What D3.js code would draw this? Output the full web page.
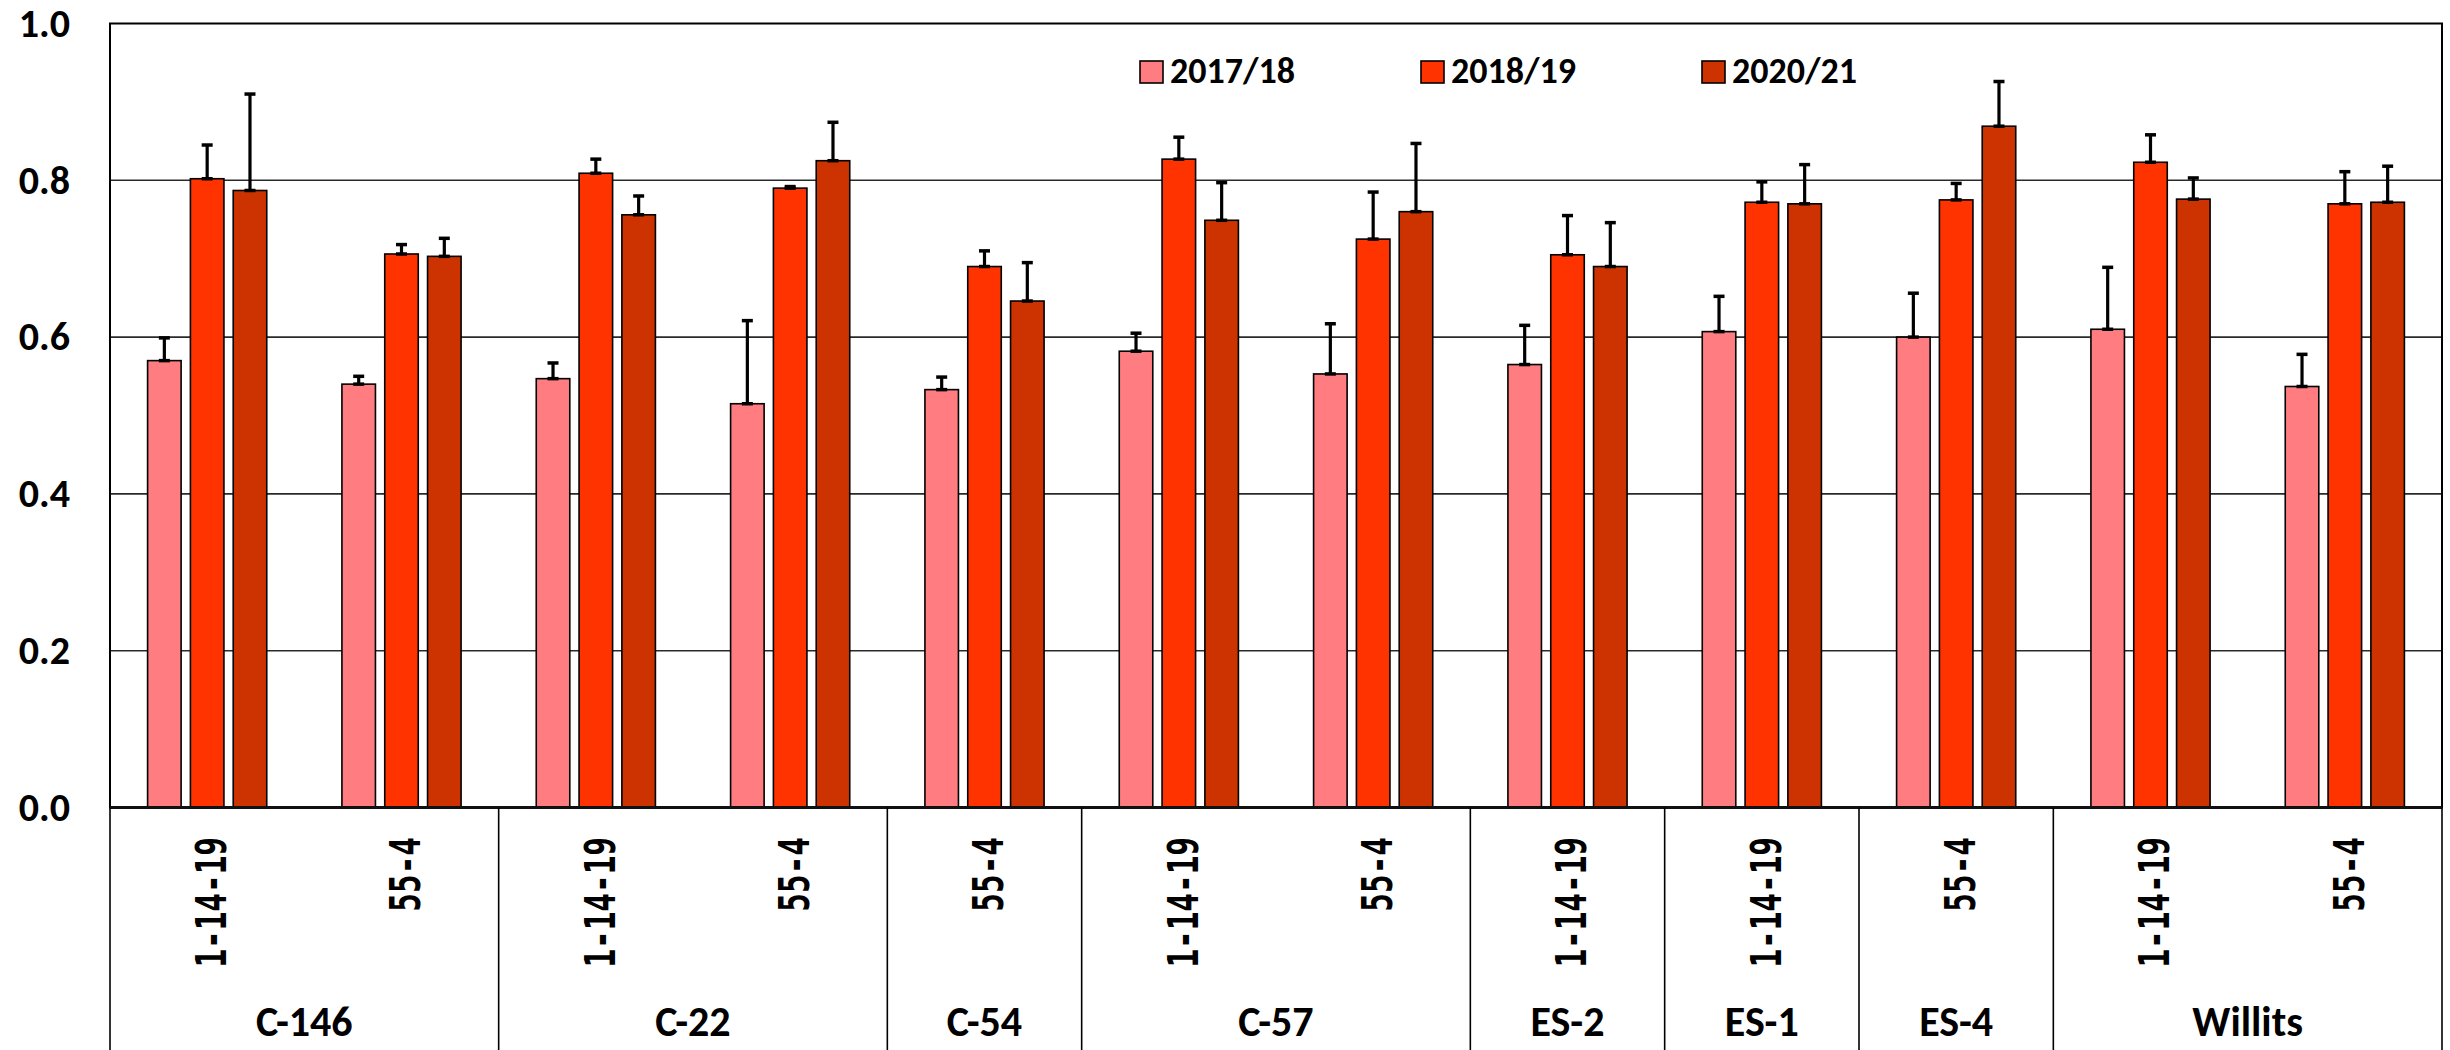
<!DOCTYPE html>
<html>
<head>
<meta charset="utf-8">
<script src="https://cdn.jsdelivr.net/npm/d3@7"></script>
<style>
  html, body { margin: 0; padding: 0; background: #fff; }
  svg { display: block; }
</style>
</head>
<body>
<script>
// ---- data ----
const groups  = ["C-146","C-146","C-22","C-22","C-54","C-57","C-57","ES-2","ES-1","ES-4","Willits","Willits"];
const subcats = ["1-14-19","55-4","1-14-19","55-4","55-4","1-14-19","55-4","1-14-19","1-14-19","55-4","1-14-19","55-4"];
const series  = ["2017/18","2018/19","2020/21"];
const v2017 = [0.570,0.540,0.547,0.515,0.533,0.582,0.553,0.565,0.607,0.600,0.610,0.537];
const e2017 = [0.029,0.010,0.020,0.106,0.016,0.023,0.064,0.050,0.045,0.056,0.079,0.041];
const v2018 = [0.802,0.706,0.809,0.790,0.690,0.827,0.725,0.705,0.772,0.775,0.823,0.770];
const e2018 = [0.043,0.012,0.018,0.002,0.020,0.028,0.060,0.050,0.026,0.021,0.035,0.041];
const v2020 = [0.787,0.703,0.756,0.825,0.646,0.749,0.760,0.690,0.770,0.869,0.776,0.772];
const e2020 = [0.123,0.023,0.024,0.049,0.049,0.048,0.087,0.056,0.050,0.057,0.027,0.046];
const yTicks = [0, 0.2, 0.4, 0.6, 0.8, 1.0];
const colors = ["#FF7C80", "#FF3300", "#CC3300"];

const values = [v2017, v2018, v2020];
const errors = [e2017, e2018, e2020];

// ---- layout ----
const W = 2450, H = 1050;
const mLeft = 110, mRight = 2442, mTop = 23.5, mBottom = 807.5;
const labelFont = "'Carlito','Liberation Sans',Arial,sans-serif";

const svg = d3.select("body").append("svg").attr("width", W).attr("height", H);

const x0 = d3.scaleBand().domain(d3.range(subcats.length)).range([mLeft, mRight]).padding(0);
const x1 = d3.scaleBand().domain(series).range([0, x0.bandwidth()]).paddingInner(0.217).paddingOuter(0.878);
const y = d3.scaleLinear().domain([0, 1]).range([mBottom, mTop]);

// gridlines
svg.append("g").selectAll("line").data(yTicks.filter(t => t > 0 && t < 1)).join("line")
  .attr("x1", mLeft).attr("x2", mRight)
  .attr("y1", d => y(d)).attr("y2", d => y(d))
  .attr("stroke", "#2a2a2a").attr("stroke-width", 1.6);

// plot border
svg.append("rect").attr("x", mLeft).attr("y", y(1)).attr("width", mRight - mLeft).attr("height", y(0) - y(1))
  .attr("fill", "none").attr("stroke", "#000").attr("stroke-width", 2);

// y axis labels
const yAxis = d3.axisLeft(y).tickValues(yTicks).tickFormat(d3.format(".1f")).tickSize(0).tickPadding(40);
const ya = svg.append("g").attr("transform", `translate(${mLeft},0)`).call(yAxis);
ya.select(".domain").remove();
ya.selectAll("text").attr("font-family", labelFont).attr("font-weight", "bold")
  .attr("font-size", 40).attr("fill", "#000").attr("dy", "0.32em");

// bars
const cats = svg.append("g").selectAll("g").data(d3.range(subcats.length)).join("g")
  .attr("transform", i => `translate(${x0(i)},0)`);

series.forEach((s, si) => {
  cats.append("rect")
    .attr("x", x1(s)).attr("width", x1.bandwidth())
    .attr("y", i => y(values[si][i])).attr("height", i => y(0) - y(values[si][i]))
    .attr("fill", colors[si]).attr("stroke", "#000").attr("stroke-width", 1.6);
});

// error bars (plus direction)
series.forEach((s, si) => {
  const cx = x1(s) + x1.bandwidth() / 2;
  const eb = cats.append("g");
  eb.append("line").attr("x1", cx).attr("x2", cx)
    .attr("y1", i => y(values[si][i])).attr("y2", i => y(values[si][i] + errors[si][i]))
    .attr("stroke", "#000").attr("stroke-width", 3.2);
  eb.append("line").attr("x1", cx - 5.5).attr("x2", cx + 5.5)
    .attr("y1", i => y(values[si][i] + errors[si][i])).attr("y2", i => y(values[si][i] + errors[si][i]))
    .attr("stroke", "#000").attr("stroke-width", 3.5);
  eb.append("line").attr("x1", cx - 5.5).attr("x2", cx + 5.5)
    .attr("y1", i => y(values[si][i])).attr("y2", i => y(values[si][i]))
    .attr("stroke", "#000").attr("stroke-width", 3.5);
});

// x axis line
svg.append("line").attr("x1", mLeft).attr("x2", mRight).attr("y1", y(0)).attr("y2", y(0))
  .attr("stroke", "#111").attr("stroke-width", 3);

// group spans
const spans = [];
groups.forEach((g, i) => {
  if (spans.length && spans[spans.length - 1].name === g) spans[spans.length - 1].end = i;
  else spans.push({ name: g, start: i, end: i });
});
const sepX = [mLeft].concat(spans.map(sp => x0(sp.end) + x0.bandwidth()));
svg.append("g").selectAll("line").data(sepX).join("line")
  .attr("x1", d => d).attr("x2", d => d).attr("y1", y(0)).attr("y2", H)
  .attr("stroke", "#000").attr("stroke-width", 1.6);

// sub-category labels (rotated)
const subFs = 31, subScale = 1.4;
svg.append("g").selectAll("text").data(d3.range(subcats.length)).join("text")
  .attr("transform", i => `translate(${x0(i) + x0.bandwidth() / 2 + 3 + 0.729 * subFs * subScale / 2},837) rotate(-90) scale(1,${subScale})`)
  .attr("text-anchor", "end")
  .attr("font-family", "'DejaVu Sans Mono',monospace").attr("font-weight", "bold")
  .attr("font-size", subFs).attr("fill", "#000")
  .text(i => subcats[i]);

// group labels
svg.append("g").selectAll("text").data(spans).join("text")
  .attr("x", sp => (x0(sp.start) + x0(sp.end) + x0.bandwidth()) / 2)
  .attr("y", 1036)
  .attr("text-anchor", "middle")
  .attr("font-family", labelFont).attr("font-weight", "bold").attr("font-size", 42).attr("fill", "#000")
  .text(sp => sp.name);

// legend
const legX = [1140, 1421, 1702];
const leg = svg.append("g").selectAll("g").data(series).join("g")
  .attr("transform", (s, i) => `translate(${legX[i]},61)`);
leg.append("rect").attr("width", 23).attr("height", 22)
  .attr("fill", (s, i) => colors[i]).attr("stroke", "#000").attr("stroke-width", 1.6);
leg.append("text").attr("x", 30).attr("y", 22.3)
  .attr("font-family", labelFont).attr("font-weight", "bold").attr("font-size", 36).attr("fill", "#000")
  .text(s => s);
</script>
</body>
</html>
